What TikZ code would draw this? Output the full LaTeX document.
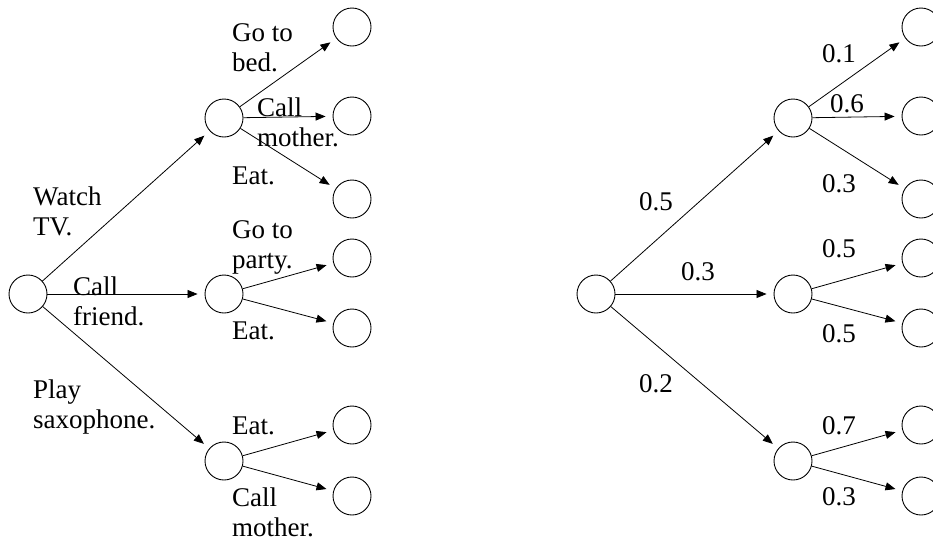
\documentclass[tikz,border=0pt]{standalone}
\usepackage{fontspec}
\setmainfont{Liberation Serif}
\usetikzlibrary{arrows.meta}
\tikzset{
  state/.style={draw, circle, minimum size=38pt, inner sep=0pt, line width=.9pt},
  lbl/.style={anchor=north west, inner sep=0pt, align=left, font=\fontsize{27}{30}\selectfont},
  prob/.style={inner sep=0pt, font=\fontsize{27}{30}\selectfont},
  branch/.style={-{Triangle[length=10pt,width=8pt]}, line width=.8pt, shorten >=7pt}
}

\begin{document}
\begin{tikzpicture}[x=1pt, y=-1pt]
\useasboundingbox (0,0) rectangle (933,542);
\clip (0,0) rectangle (933,542);
% left tree: choices
\node[state] (lroot) at (28,294) {};
\node[state] (ltv) at (224,118) {};
\node[state] (lfriend) at (224,294) {};
\node[state] (lsax) at (224,461) {};
\foreach \y [count=\i] in {27,116,199,258,328,425,496}
  \node[state] (lleaf\i) at (352,\y) {};
\draw[branch] (lroot) -- (ltv);
\draw[branch] (lroot) -- (lfriend);
\draw[branch] (lroot) -- (lsax);
\foreach \i in {1,2,3} \draw[branch] (ltv) -- (lleaf\i);
\foreach \i in {4,5} \draw[branch] (lfriend) -- (lleaf\i);
\foreach \i in {6,7} \draw[branch] (lsax) -- (lleaf\i);
\node[lbl] (tvtxt) at (33,187) {Watch\\TV.};
\node[lbl] (friendtxt) at (73,277) {Call\\friend.};
\node[lbl] (saxtxt) at (33,380) {Play\\saxophone.};
\node[lbl] (bedtxt) at (232,23) {Go to\\bed.};
\node[lbl] (momtxt) at (257,98) {Call\\mother.};
\node[lbl] (eattxt) at (232,167) {Eat.};
\node[lbl] (partytxt) at (232,220) {Go to\\party.};
\node[lbl] (eattxtb) at (232,322) {Eat.};
\node[lbl] (eattxtc) at (232,417) {Eat.};
\node[lbl] (momtxtb) at (232,488) {Call\\mother.};
% right tree: probabilities
\node[state] (rroot) at (596,294) {};
\node[state] (rtv) at (793,118) {};
\node[state] (rfriend) at (793,294) {};
\node[state] (rsax) at (793,461) {};
\foreach \y [count=\i] in {27,116,199,258,328,425,496}
  \node[state] (rleaf\i) at (921,\y) {};
\draw[branch] (rroot) -- (rtv);
\draw[branch] (rroot) -- (rfriend);
\draw[branch] (rroot) -- (rsax);
\foreach \i in {1,2,3} \draw[branch] (rtv) -- (rleaf\i);
\foreach \i in {4,5} \draw[branch] (rfriend) -- (rleaf\i);
\foreach \i in {6,7} \draw[branch] (rsax) -- (rleaf\i);
\node[prob] (ptv) at (656,202) {0.5};
\node[prob] (pfriend) at (698,272) {0.3};
\node[prob] (psax) at (656,384) {0.2};
\node[prob] (p1) at (839,54) {0.1};
\node[prob] (p2) at (847,104) {0.6};
\node[prob] (p3) at (839,184) {0.3};
\node[prob] (p4) at (839,249) {0.5};
\node[prob] (p5) at (839,334) {0.5};
\node[prob] (p6) at (839,426) {0.7};
\node[prob] (p7) at (839,497) {0.3};
\end{tikzpicture}
\end{document}
